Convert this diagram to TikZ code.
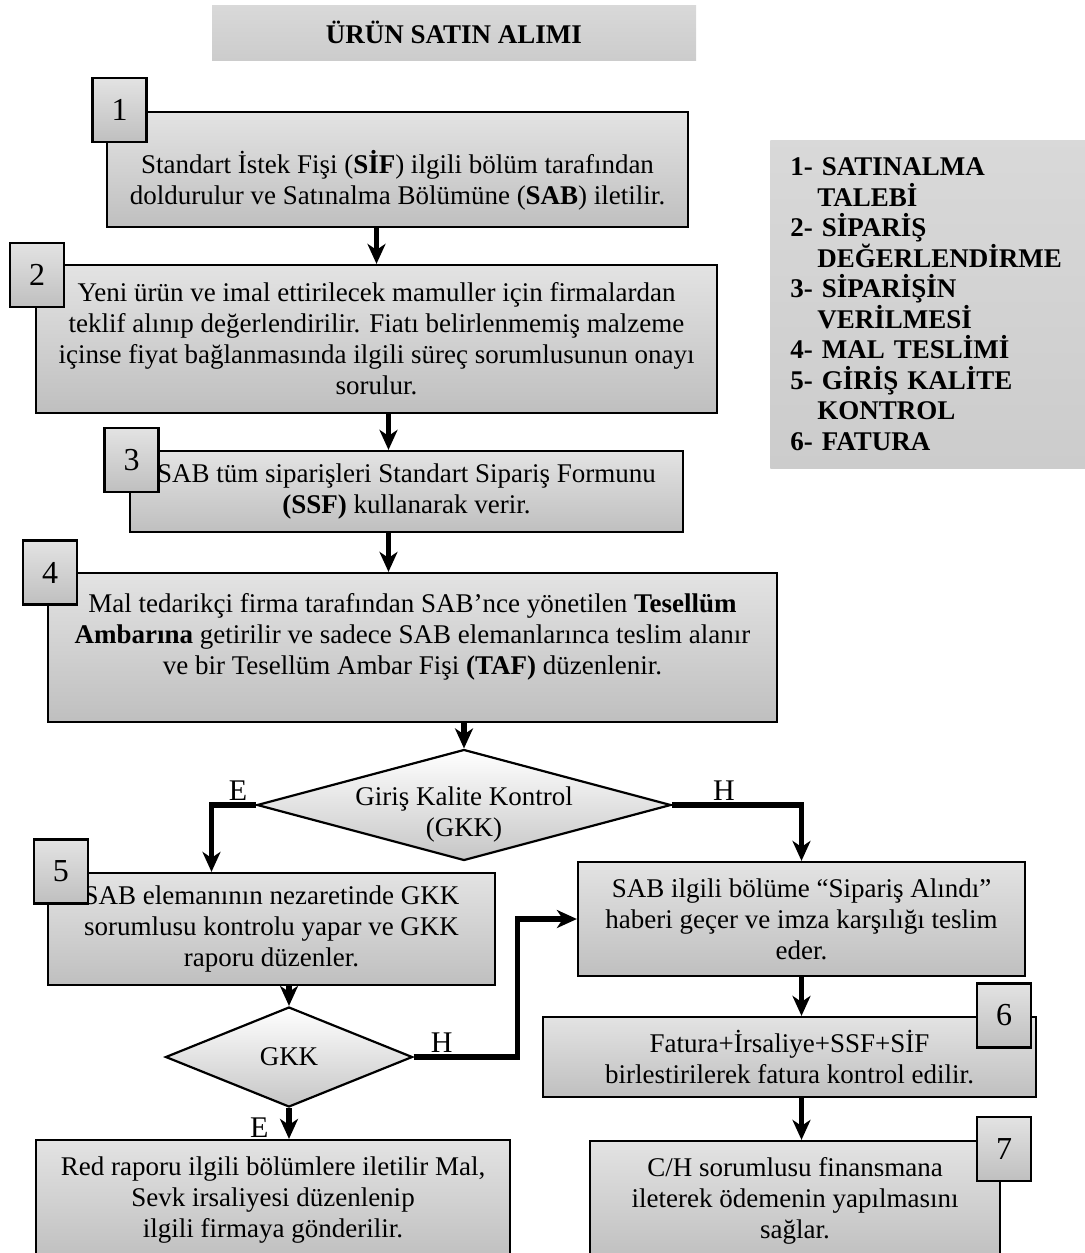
\documentclass[tikz,border=0pt]{standalone}
\usepackage{fontspec}
\setmainfont{Liberation Serif}
\usetikzlibrary{shapes.geometric,arrows.meta}

\begin{document}
\begin{tikzpicture}[x=0.5pt,y=-0.5pt]
    \tikzstyle{box}=[rectangle,draw,line width=1.1pt,top color=gray!22,middle color=white,bottom color=gray!50,
                     align=center,inner sep=0pt,font=\fontsize{13.5}{15.5}\selectfont]
    \tikzstyle{tag}=[box,minimum width=27pt,minimum height=32pt,font=\fontsize{16}{18}\selectfont]
    \tikzstyle{dec}=[diamond,draw,line width=1.1pt,top color=white,bottom color=gray!45,inner sep=0pt]
    \tikzstyle{banner}=[rectangle,top color=gray!30,middle color=white,bottom color=gray!40]
    \tikzstyle{arr}=[line width=2.6pt,-{Stealth[length=10pt,width=9pt,inset=3pt]}]
    \tikzstyle{lbl}=[inner sep=1pt,font=\fontsize{15}{17}\selectfont]
    \useasboundingbox (0,0) rectangle (1085,1253);

    \node[banner,minimum width=242pt,minimum height=27.5pt,font=\fontsize{13.5}{15.5}\selectfont\bfseries] (title) at (454,32.5) {ÜRÜN SATIN ALIMI};
    \node[banner,anchor=north west,minimum height=164pt,text width=145pt,inner xsep=10pt,align=left,
          font=\fontsize{13.5}{15.25}\selectfont\bfseries] (legend) at (770,140)
         {1- SATINALMA\\\hspace*{13.5pt}TALEBİ\\2- SİPARİŞ\\\hspace*{13.5pt}DEĞERLENDİRME\\3- SİPARİŞİN\\\hspace*{13.5pt}VERİLMESİ\\
          4- MAL TESLİMİ\\5- GİRİŞ KALİTE\\\hspace*{13.5pt}KONTROL\\6- FATURA};

    % steps
    \node[box,minimum width=290.5pt,minimum height=57.5pt] (b1) at (397.5,169.5)
         {\rule{0pt}{22pt}Standart İstek Fişi (\textbf{SİF}) ilgili bölüm tarafından\\doldurulur ve Satınalma Bölümüne (\textbf{SAB}) iletilir.};
    \node[box,minimum width=340.5pt,minimum height=74pt] (b2) at (376.5,339)
         {Yeni ürün ve imal ettirilecek mamuller için firmalardan\\teklif alınıp değerlendirilir. Fiatı belirlenmemiş malzeme\\
          içinse fiyat bağlanmasında ilgili süreç sorumlusunun onayı\\sorulur.};
    \node[box,minimum width=276.5pt,minimum height=40.5pt] (b3) at (406.5,491.5)
         {SAB tüm siparişleri Standart Sipariş Formunu\\\textbf{(SSF)} kullanarak verir.};
    \node[box,minimum width=364.5pt,minimum height=74.5pt] (b4) at (412.5,647.5)
         {Mal tedarikçi firma tarafından SAB’nce yönetilen \textbf{Tesellüm}\\\textbf{Ambarına} getirilir ve sadece SAB elemanlarınca teslim alanır\\
          ve bir Tesellüm Ambar Fişi \textbf{(TAF)} düzenlenir.\rule[-14pt]{0pt}{1pt}};
    \node[dec,minimum width=207pt,minimum height=55.5pt,
          label={[align=center,yshift=-4.5pt,font=\fontsize{13.5}{15.5}\selectfont]center:Giriş Kalite Kontrol\\(GKK)}] (d1) at (464,805) {};
    \node[box,minimum width=223.5pt,minimum height=56pt] (b5) at (271.5,929)
         {SAB elemanının nezaretinde GKK\\sorumlusu kontrolu yapar ve GKK\\raporu düzenler.};
    \node[box,minimum width=223.5pt,minimum height=57pt] (bS) at (801.5,919)
         {SAB ilgili bölüme “Sipariş Alındı”\\haberi geçer ve imza karşılığı teslim\\eder.};
    \node[dec,minimum width=123.5pt,minimum height=50pt,
          label={[font=\fontsize{13.5}{15.5}\selectfont]center:GKK}] (d2) at (289,1057) {};
    \node[box,minimum width=246.5pt,minimum height=40pt] (b6) at (789.5,1057)
         {Fatura+İrsaliye+SSF+SİF\\birlestirilerek fatura kontrol edilir.};
    \node[box,minimum width=237pt,minimum height=60pt] (red) at (273,1200)
         {Red raporu ilgili bölümlere iletilir Mal,\\Sevk irsaliyesi düzenlenip\\ilgili firmaya gönderilir.};
    \node[box,minimum width=205pt,minimum height=59.5pt] (b7) at (795,1200.5)
         {C/H sorumlusu finansmana\\ileterek ödemenin yapılmasını\\sağlar.};

    % numbers
    \node[tag] (t1) at (119.5,110) {1};
    \node[tag] (t2) at (37,275) {2};
    \node[tag] (t3) at (131.5,460) {3};
    \node[tag] (t4) at (50,572.5) {4};
    \node[tag] (t5) at (61,871.5) {5};
    \node[tag] (t6) at (1004,1015.5) {6};
    \node[tag] (t7) at (1004,1149) {7};

    % flow
    \draw[arr] (b1.south -| b2.north) -- (b2.north);
    \draw[arr] ([xshift=6pt]b2.south) -- ([xshift=6pt]b2.south |- b3.north);
    \draw[arr] ([xshift=-9pt]b3.south) -- ([xshift=-9pt]b3.south |- b4.north);
    \draw[arr] (b4.south -| d1.north) -- (d1.north);
    \draw[arr] (d1.west) -| node[lbl,pos=0.2,above] {E} ([xshift=-30pt]b5.north);
    \draw[arr] (d1.east) -| node[lbl,pos=0.2,above] {H} (bS.north);
    \draw[arr] (b5.south -| d2.north) -- (d2.north);
    \draw[arr] (d2.east) -- node[lbl,pos=0.27,above] {H} ++(52pt,0) |- (bS.west);
    \draw[arr] (d2.south) -- node[lbl,pos=0.65,left=8pt] {E} (d2.south |- red.north);
    \draw[arr] (bS.south) -- (bS.south |- b6.north);
    \draw[arr] ([xshift=6pt]b6.south) -- ([xshift=6pt]b6.south |- b7.north);

\end{tikzpicture}
\end{document}
